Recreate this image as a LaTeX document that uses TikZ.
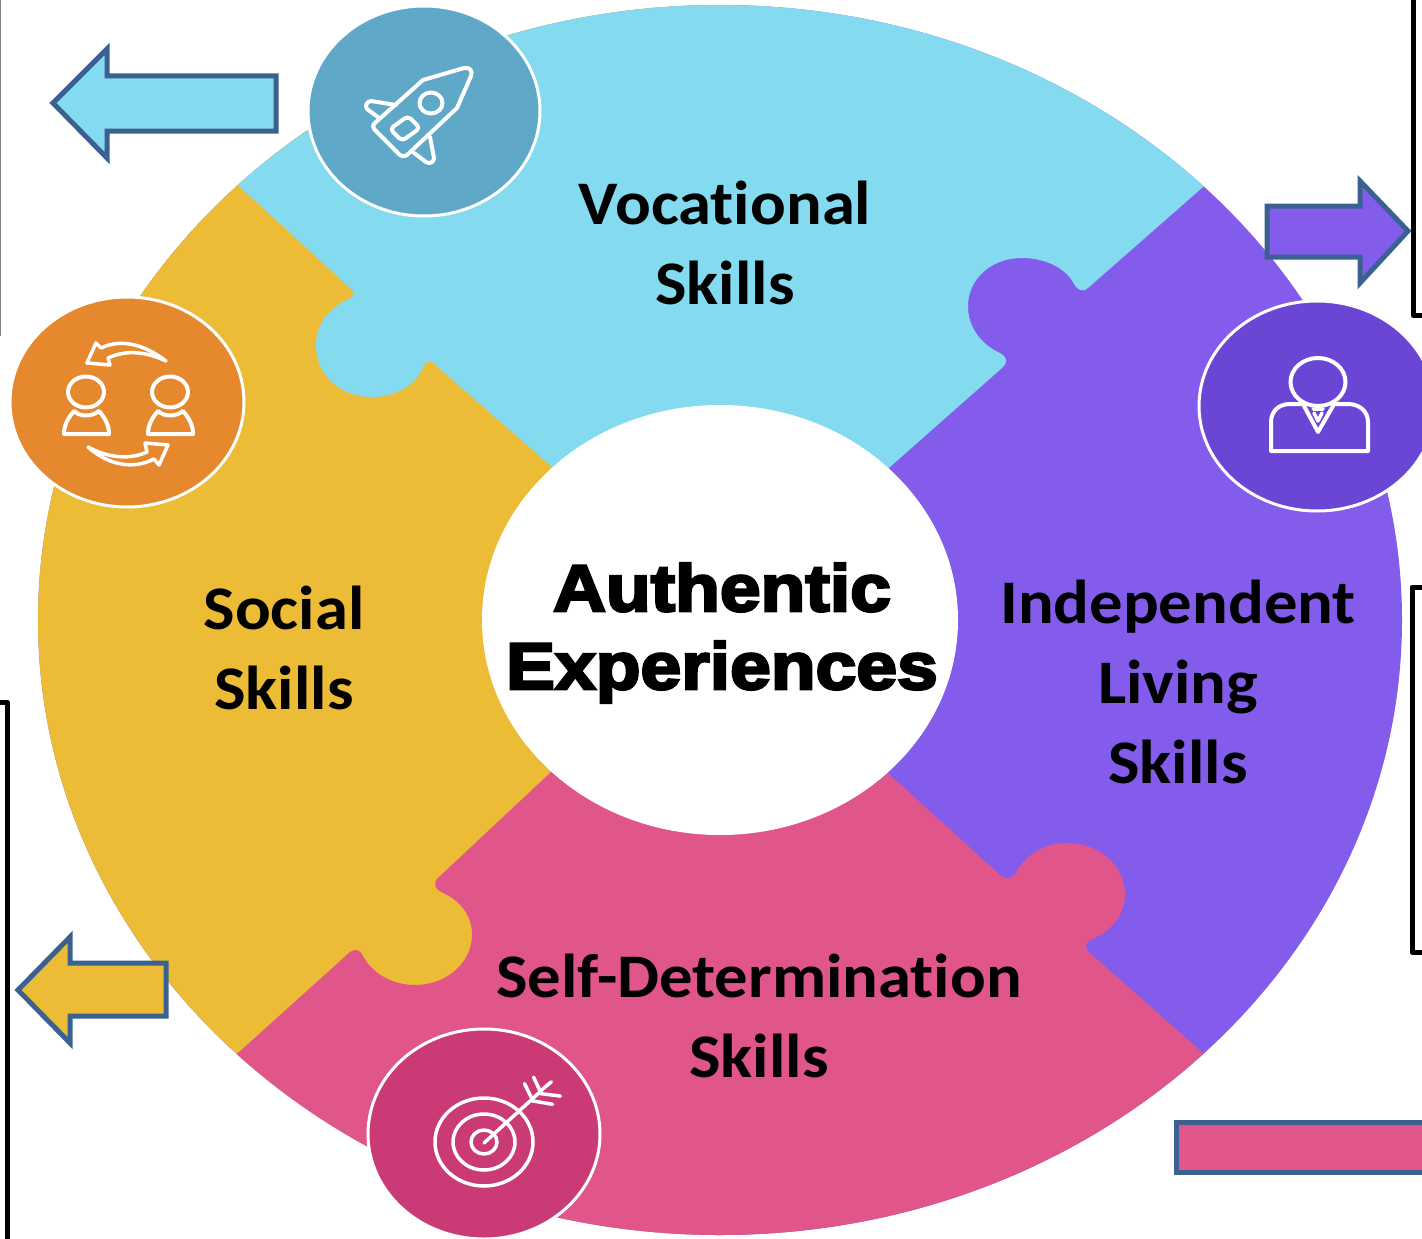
\documentclass[tikz,border=0pt]{standalone}
\usepackage{fontspec}
\usetikzlibrary{shapes.geometric}
\setmainfont{Carlito}[RawFeature={-liga},BoldFeatures={FakeStretch=1.075,RawFeature={-liga}}]
\newfontfamily\blackfont[FakeBold=4,FakeStretch=1.11]{Liberation Sans Bold}
\definecolor{pblue}{HTML}{84DAEF}
\definecolor{pyellow}{HTML}{ECBC36}
\definecolor{ppurple}{HTML}{845CEB}
\definecolor{ppink}{HTML}{E0568A}
\definecolor{cblue}{HTML}{5FA8C8}
\definecolor{corange}{HTML}{E6882E}
\definecolor{cpurple}{HTML}{6B46D4}
\definecolor{cpink}{HTML}{C93A76}
\definecolor{edgeblue}{HTML}{3A6190}
\tikzset{
  badge/.style={ellipse,draw=white,line width=3pt,inner sep=0pt,minimum width=232pt,minimum height=210pt},
  icon/.style={draw=white,line width=4pt,line join=round,line cap=round},
  iconfine/.style={draw=white,line width=3.5pt,line join=round,line cap=round},
  blockarrow/.style={draw=edgeblue,line width=5pt,line join=miter},
  bracket/.style={draw=black,line width=5pt,line join=round},
  skill/.style={font=\fontsize{62}{80}\selectfont\bfseries,align=center,inner sep=0pt,text=black},
  hub/.style={font=\fontsize{66}{78}\selectfont\blackfont,align=center,inner sep=0pt,text=black}
}
\begin{document}
\begin{tikzpicture}[x=1pt,y=-1pt]
\useasboundingbox (0,0) rectangle (1422,1239);
\clip (0,0) rectangle (1422,1239);
\fill[white] (0,0) rectangle (1422,1239);
% frames
\draw[draw=gray,line width=2pt] (0,-5) -- (0,336);
\draw[bracket] (1413,-10) -- (1413,315) -- (1430,315);
\draw[bracket] (1430,587) -- (1412,587) -- (1412,952) -- (1430,952);
\draw[bracket] (-10,702) -- (7,702) -- (7,1250);
% ring
\begin{scope}
\clip (720,620) ellipse [x radius=682pt,y radius=615pt];
\fill[ppurple] (0,-10) rectangle (1430,1250);
\fill[pyellow] (0,-10) rectangle (720,1250);
\fill[pblue] (720,620) -- (552,467) -- (432,362) .. controls (426,360) and (424,364) .. (422,370)
  .. controls (414,386) and (395,397) .. (372,397) .. controls (340,397) and (316,375) .. (316,345)
  .. controls (316,325) and (328,308) .. (349,299) .. controls (354,297) and (355,292) .. (350,288)
  -- (240,187) -- (100,60) -- (100,-50) -- (1340,-50) -- (1340,60) -- (1203,187)
  -- (1088,288) .. controls (1082,293) and (1078,290) .. (1074,284)
  .. controls (1066,268) and (1045,258) .. (1022,258) .. controls (990,258) and (968,280) .. (968,306)
  .. controls (968,328) and (982,345) .. (1000,353) .. controls (1008,358) and (1008,362) .. (1002,368)
  -- (890,467) -- cycle;
\fill[ppink] (720,620) -- (890,775) -- (1000,875) .. controls (1006,880) and (1011,879) .. (1016,873)
  .. controls (1024,856) and (1044,843) .. (1067,843) .. controls (1100,843) and (1125,866) .. (1125,895)
  .. controls (1125,915) and (1110,932) .. (1092,939) .. controls (1085,942) and (1084,948) .. (1090,953)
  -- (1203,1053) -- (1340,1180) -- (1340,1300) -- (100,1300) -- (100,1180) -- (238,1053)
  -- (350,952) .. controls (356,948) and (360,950) .. (363,956)
  .. controls (372,973) and (392,985) .. (415,985) .. controls (447,985) and (472,962) .. (472,935)
  .. controls (472,915) and (460,900) .. (441,892) .. controls (434,888) and (433,882) .. (439,877)
  -- (550,773) -- cycle;
\end{scope}
\node[ellipse,fill=white,inner sep=0pt,minimum width=476pt,minimum height=430pt] (hubdisc) at (720,620) {};
% arrows
\draw[blockarrow,fill=pblue] (53,103) -- (107,49) -- (107,76) -- (276,76) -- (276,131) -- (107,131) -- (107,158) -- cycle;
\draw[blockarrow,fill=ppurple] (1267,206) -- (1360,206) -- (1360,181) -- (1408,231) -- (1360,283) -- (1360,257) -- (1267,257) -- cycle;
\draw[blockarrow,fill=pyellow] (18,990) -- (70,937) -- (70,963) -- (166,963) -- (166,1016) -- (70,1016) -- (70,1043) -- cycle;
\draw[blockarrow,fill=ppink] (1430,1122) -- (1176,1122) -- (1176,1172) -- (1430,1172);
% badges
\node[badge,fill=cblue] (rocketbadge) at (424,111) {};
\node[badge,fill=corange,minimum width=234pt] (peoplebadge) at (127,402) {};
\node[badge,fill=cpurple,minimum width=236pt] (personbadge) at (1317,406) {};
\node[badge,fill=cpink] (targetbadge) at (484,1134) {};
% rocket
\draw[icon] (423,80) -- (464,68) .. controls (470,67) and (473,71) .. (471,76) -- (457,108) -- (407,155)
  .. controls (403,158) and (399,155) .. (397,152) -- (377,132) .. controls (372,128) and (372,125) .. (376,122) -- cycle;
\draw[icon] (431,103) ellipse [x radius=11.5pt,y radius=10.5pt];
\draw[icon,rounded corners=4pt] (408,116) -- (420,128) -- (402,141) -- (390,129) -- cycle;
\draw[icon] (396,105) -- (371,101) .. controls (366,102) and (365,106) .. (367,109) -- (379,118);
\draw[icon] (430,137) -- (434,158) .. controls (434,163) and (429,164) .. (426,162) -- (414,153);
% people
\draw[icon] (86,392) ellipse [x radius=18pt,y radius=15.5pt];
\draw[icon] (170,392) ellipse [x radius=18pt,y radius=15.5pt];
\draw[icon] (74,411) .. controls (80,417) and (92,417) .. (99,411) .. controls (105,418) and (109,425) .. (109,434) -- (64,434) .. controls (64,425) and (68,418) .. (74,411) -- cycle;
\draw[icon] (158,411) .. controls (164,417) and (176,417) .. (183,411) .. controls (189,418) and (193,425) .. (193,434) -- (148,434) .. controls (148,425) and (152,418) .. (158,411) -- cycle;
\draw[iconfine] (166,361) .. controls (145,345) and (122,338) .. (101,348) -- (96,343) -- (87,363) -- (110,365) -- (108,358) .. controls (125,350) and (145,351) .. (166,361) -- cycle;
\draw[iconfine] (88,447) .. controls (108,458) and (130,460) .. (147,452) -- (145,443) -- (168,445) -- (159,465) -- (154,459) .. controls (133,470) and (108,465) .. (88,447) -- cycle;
% person
\draw[icon] (1318,382) ellipse [x radius=27.5pt,y radius=24pt];
\draw[icon] (1301,404) -- (1290,404) .. controls (1278,404) and (1271,412) .. (1271,422) -- (1271,451) -- (1368,451) -- (1368,422) .. controls (1368,412) and (1360,404) .. (1348,404) -- (1335,404);
\draw[icon] (1304,406) -- (1318,432) -- (1333,406);
\draw[iconfine] (1313,409) -- (1323,409) (1314,413) -- (1318,421) -- (1322,413);
% target
\draw[iconfine] (484,1142) ellipse [x radius=49pt,y radius=44pt];
\draw[iconfine] (484,1142) ellipse [x radius=31pt,y radius=28pt];
\draw[iconfine] (484,1142) ellipse [x radius=13pt,y radius=12pt];
\draw[iconfine] (484,1143) -- (541,1091);
\draw[iconfine] (524.5,1083.6) -- (531.6,1098);
\draw[iconfine] (533.6,1077.1) -- (540.7,1092.5);
\draw[iconfine] (551.4,1081.8) -- (540.7,1090.7);
\draw[iconfine] (540.7,1093.6) -- (560.5,1096.1);
\draw[iconfine] (531.6,1100.7) -- (552.6,1104.3);
% labels
\node[skill] (voc) at (725,243) {Vocational\\Skills};
\node[skill] (soc) at (284,648) {Social\\Skills};
\node[skill] (ind) at (1178,682) {Independent\\Living\\Skills};
\node[skill] (sel) at (759,1016) {Self-Determination\\Skills};
\node[hub] (auth) at (722,633) {Authentic\\Experiences};
\end{tikzpicture}
\end{document}
